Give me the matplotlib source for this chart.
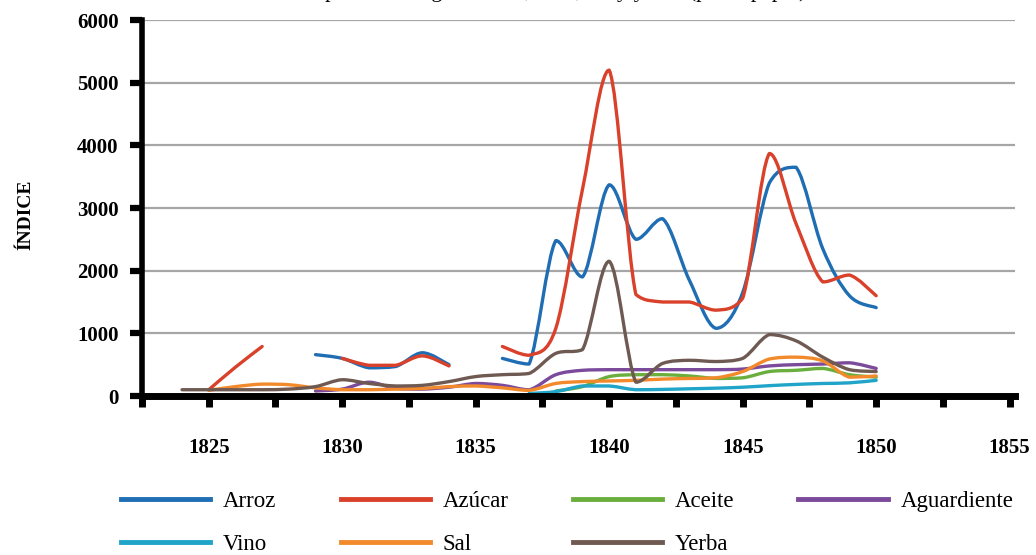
import numpy as np
import matplotlib
matplotlib.use("Agg")
import matplotlib.pyplot as plt
from matplotlib.path import Path
from matplotlib.patches import PathPatch
from matplotlib.lines import Line2D

plt.rcParams['font.family'] = ['Liberation Serif', 'DejaVu Serif']

years = np.arange(1824, 1851)
nan = np.nan

#            1824 1825 1826 1827 1828 1829 1830 1831 1832 1833 1834 1835 1836 1837 1838  1839  1840  1841  1842  1843  1844  1845  1846  1847  1848  1849  1850
arroz =      [nan, nan, nan, nan, nan, 660, 600, 450, 470, 690, 500, nan, 600, 510, 2480, 1900, 3370, 2500, 2830, 1850, 1080, 1650, 3400, 3650, 2350, 1600, 1410]
azucar =     [nan, 100, 460, 790, nan, nan, 600, 490, 490, 640, 480, nan, 790, 650, 1080, 3300, 5200, 1620, 1500, 1500, 1370, 1560, 3870, 2750, 1820, 1930, 1600]
aceite =     [nan, nan, nan, nan, nan, nan, nan, nan, nan, nan, nan, nan, nan, nan, 80, 150, 310, 340, 340, 320, 280, 290, 390, 410, 440, 340, 300]
aguardiente = [nan, nan, nan, nan, nan, 80, 110, 220, 120, 110, 140, 200, 170, 100, 340, 410, 420, 420, 420, 420, 420, 430, 480, 500, 510, 530, 440]
vino =       [nan, nan, nan, nan, nan, nan, nan, nan, nan, nan, nan, nan, nan, 40, 70, 160, 160, 100, 105, 115, 125, 140, 165, 185, 200, 210, 250]
sal =        [nan, 90, 150, 190, 180, 130, 100, 100, 110, 120, 150, 160, 130, 90, 200, 230, 240, 250, 270, 280, 290, 390, 590, 620, 560, 300, 320]
yerba =      [100, 100, 100, 100, 110, 150, 260, 200, 160, 170, 230, 310, 340, 360, 680, 740, 2150, 220, 520, 570, 550, 600, 980, 880, 620, 420, 390]

names = ["Arroz", "Azúcar", "Aceite", "Aguardiente", "Vino", "Sal", "Yerba"]
series = [arroz, azucar, aceite, aguardiente, vino, sal, yerba]
colors = ["#1f6db3", "#d9412b", "#6aaf3d", "#7b4a9b", "#20a4c8", "#f28a2c", "#6e5a52"]


def smooth_path(x, y):
    # excel-like smoothed line: bezier segments through the data points,
    # control points kept inside each segment's range to avoid overshoot
    verts, codes = [], []
    y = np.asarray(y, dtype=float)
    ok = ~np.isnan(y)
    i = 0
    while i < len(y):
        if not ok[i]:
            i += 1
            continue
        j = i
        while j < len(y) and ok[j]:
            j += 1
        p = np.column_stack([x[i:j], y[i:j]]).astype(float)
        n = len(p)
        if n > 1:
            verts.append(p[0])
            codes.append(Path.MOVETO)
            for k in range(n - 1):
                p0 = p[k - 1] if k > 0 else p[k]
                p3 = p[k + 2] if k + 2 < n else p[k + 1]
                c1 = p[k] + (p[k + 1] - p0) / 6
                c2 = p[k + 1] - (p3 - p[k]) / 6
                lo, hi = sorted([p[k][1], p[k + 1][1]])
                c1[1] = min(max(c1[1], lo), hi)
                c2[1] = min(max(c2[1], lo), hi)
                verts += [c1, c2, p[k + 1]]
                codes += [Path.CURVE4] * 3
        i = j
    return Path(verts, codes)


fig = plt.figure(figsize=(10.36, 5.55), dpi=100)
ax = fig.add_axes([142 / 1036, 1 - 396 / 555, (1015 - 142) / 1036, (396 - 20) / 555])

for vals, c in zip(series, colors):
    ax.add_patch(PathPatch(smooth_path(years, vals), fill=False, edgecolor=c,
                           lw=2.4, capstyle='round', joinstyle='round'))

ax.set_xlim(1822.5, 1855.2)
ax.set_ylim(0, 6000)
ax.set_xticks(np.arange(1825, 1856, 5))
ax.set_xticks(np.arange(1822.5, 1855, 5), minor=True)
ax.set_yticks(np.arange(0, 6001, 1000))

ax.yaxis.grid(True, color="#a6a6a6", lw=1.6)
ax.set_axisbelow(True)
for s in ["top", "right"]:
    ax.spines[s].set_visible(False)
ax.spines["bottom"].set_linewidth(5)
ax.spines["left"].set_linewidth(4)

ax.tick_params(axis="x", which="both", direction="out", length=8, width=5, pad=22)
ax.tick_params(axis="y", which="major", direction="out", length=9, width=4.5, pad=8)
for lab in ax.get_xticklabels() + ax.get_yticklabels():
    lab.set_fontsize(15)
    lab.set_fontweight("bold")

fig.text(26 / 1036, 1 - 215 / 555, "ÍNDICE", rotation=90, fontsize=14,
         fontweight="bold", ha="center", va="center")

# title, mostly cut off at the top of the image
fig.text(518 / 1036, 1 + 3 / 555, "Índices de precios de aguardiente, vino, sal y yerba (pesos papel)",
         fontsize=16, ha="center", va="baseline")

handles = [Line2D([], [], color=c, lw=3.5) for c in colors]
order = [0, 4, 1, 5, 2, 6, 3]
ax.legend([handles[k] for k in order], [names[k] for k in order], ncol=4,
          loc="upper left", bbox_to_anchor=(121 / 1036, 1 - 491 / 555),
          bbox_transform=fig.transFigure, frameon=False, fontsize=16.5,
          handlelength=3.9, handletextpad=0.55, columnspacing=2.8,
          labelspacing=0.95, borderpad=0, borderaxespad=0)

fig.savefig("out.png", dpi=100)
